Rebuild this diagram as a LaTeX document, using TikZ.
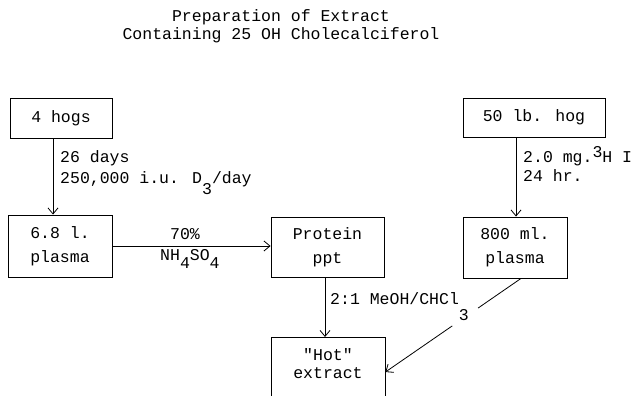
\documentclass[tikz,border=0pt]{standalone}
\usepackage{fontspec}
\setmainfont{Liberation Mono}[Ligatures=TeXOff]
\usetikzlibrary{arrows.meta,calc}
\begin{document}
\begin{tikzpicture}[x=1pt,y=-1pt,
  every node/.style={font=\fontsize{16.5}{24}\selectfont},
  box/.style={draw, line width=0.9pt, inner sep=0pt, align=center},
  lbl/.style={inner sep=0pt, anchor=base west},
  arr/.style={line width=0.8pt, -{Straight Barb[length=6pt,width=10pt]}}]
\useasboundingbox (0,0) rectangle (633,396);
\clip (0,0) rectangle (633,396);
% title
\node[anchor=base, inner sep=0pt] (t1) at (281,22) {Preparation of Extract};
\node[anchor=base, inner sep=0pt] (t2) at (281,40) {Containing 25 OH Cholecalciferol};
% boxes
\node[box, minimum width=102pt, minimum height=40pt] (hogs) at (61,118) {4 hogs};
\node[box, minimum width=142pt, minimum height=39pt] (hog50) at (534,117.5) {50 lb. hog};
\node[box, minimum width=104pt, minimum height=62pt] (p68) at (60,246) {6.8 l.\\plasma};
\node[box, minimum width=113pt, minimum height=60pt] (prot) at (327.5,247) {Protein\\ppt};
\node[box, minimum width=104pt, minimum height=61pt] (p800) at (515,247.5) {800 ml.\\plasma};
\node[box, minimum width=114pt, anchor=north, inner xsep=0pt, inner ysep=11.5pt,
      font=\fontsize{16.5}{18}\selectfont] (hot) at (328,337) {"Hot"\\extract\\[40pt]\mbox{}};
% connectors
\coordinate (a1) at (53,0);
\coordinate (a2) at (516,0);
\coordinate (a3) at (325,0);
\coordinate (d1) at (521,0);
\coordinate (d2) at (0,372);
\draw[arr] (hogs.south -| a1) -- (p68.north -| a1);
\draw[arr] (hog50.south -| a2) -- (p800.north -| a2);
\draw[arr] (p68.east) -- (prot.west |- p68.east);
\draw[arr] (prot.south -| a3) -- (hot.north -| a3);
\coordinate (ds) at (p800.south -| d1);
\coordinate (de) at (hot.east |- d2);
\draw[line width=0.8pt] (ds) -- ($(ds)!0.316!(de)$);
\draw[arr] ($(ds)!0.507!(de)$) -- (de);
% labels
\node[lbl] (l1) at (60,163) {26 days};
\node[lbl] (l2) at (60,183) {250,000 i.u. D\raisebox{-0.7em}{3}/day};
\node[lbl] (l3) at (523,163) {2.0 mg.\raisebox{0.35em}{3}H I};
\node[lbl] (l4) at (523,182) {24 hr.};
\node[anchor=base, inner sep=0pt] (l5) at (185,240) {70\%};
\node[lbl] (l6) at (160,260) {NH\raisebox{-0.5em}{4}SO\raisebox{-0.5em}{4}};
\node[lbl] (l7) at (330,304) {2:1 MeOH/CHCl\raisebox{-1em}{3}};
\end{tikzpicture}
\end{document}
